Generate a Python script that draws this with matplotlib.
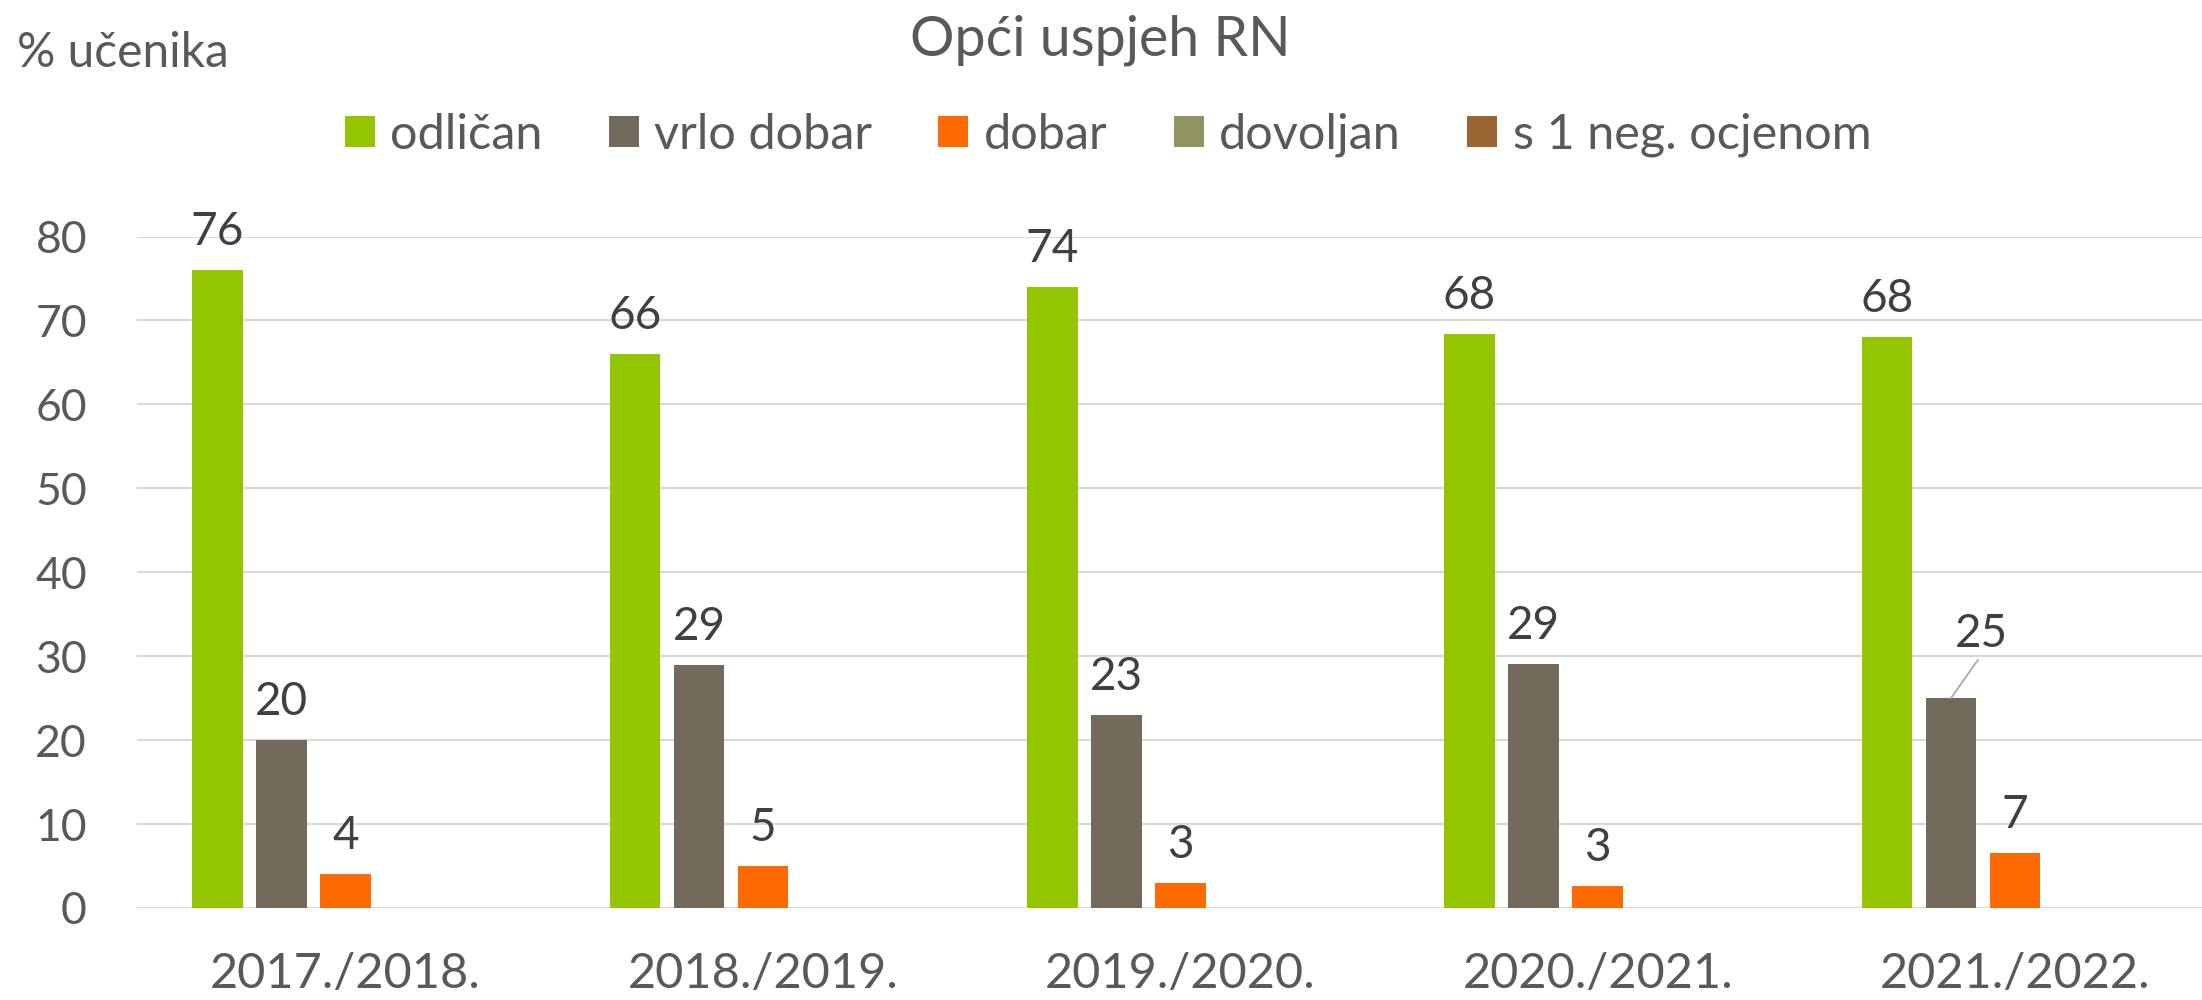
import matplotlib
matplotlib.use("Agg")
import matplotlib.pyplot as plt
import numpy as np

plt.rcParams['font.family'] = ['Lato', 'DejaVu Sans']

# podaci
godine = ['2017./2018.', '2018./2019.', '2019./2020.', '2020./2021.', '2021./2022.']
serije = ['odličan', 'vrlo dobar', 'dobar', 'dovoljan', 's 1 neg. ocjenom']
odlican = [76, 66, 74, 68.4, 68]
vrlo_dobar = [20, 29, 23, 29.1, 25]
dobar = [4, 5, 3, 2.6, 6.6]
dovoljan = [0, 0, 0, 0, 0]
s1neg = [0, 0, 0, 0, 0]
boje = ['#93C500', '#736A5B', '#FF6A00', '#8F9461', '#996633']

sve = [odlican, vrlo_dobar, dobar, dovoljan, s1neg]

fig = plt.figure(figsize=(22.02, 10), dpi=100)
ax = fig.add_axes([137 / 2202, 0.092, 1 - 137 / 2202, 0.6715])

x = np.arange(len(godine))
korak = 0.1534
sirina = 0.121
txt = '#595959'
lbl = '#404040'

for j, (vals, name, c) in enumerate(zip(sve, serije, boje)):
    pos = x + (j - 2) * korak
    ax.bar(pos, vals, width=sirina, color=c, label=name, zorder=3)
    for i, (p, v) in enumerate(zip(pos, vals)):
        if v == 0:
            continue
        s = str(int(v + 0.5))
        if j == 1 and i == 4:
            # pomaknuta oznaka s linijom
            ax.annotate(s, xy=(p, v), xytext=(22, 37), textcoords='offset points',
                        ha='center', va='baseline', fontsize=33, color=lbl,
                        arrowprops=dict(arrowstyle='-', color='#A6A6A6', lw=1.2,
                                        shrinkA=2, shrinkB=0, relpos=(0.5, 0)))
        else:
            ax.annotate(s, xy=(p, v), xytext=(0, 18), textcoords='offset points',
                        ha='center', va='baseline', fontsize=33, color=lbl)

ax.set_xlim(-0.5, 4 + (2202 - 2015) / 417.3)
ax.set_ylim(0, 80)
ax.set_yticks(range(0, 81, 10))
ax.set_xticks(x)
ax.set_xticklabels(godine)
ax.tick_params(axis='y', length=0, pad=36, labelsize=32, labelcolor=txt)
ax.tick_params(axis='x', length=0, pad=32, labelsize=35, labelcolor=txt)
for sp in ax.spines.values():
    sp.set_visible(False)
ax.grid(axis='y', color='#D9D9D9', linewidth=1.5, zorder=0)
ax.set_axisbelow(True)

fig.text(1100 / 2202, 1 - 56 / 1000, 'Opći uspjeh RN', ha='center', va='baseline',
         fontsize=40, color=txt)
fig.text(17 / 2202, 1 - 67 / 1000, '% učenika', ha='left', va='baseline',
         fontsize=34.5, color=txt)

fs = 35
fig.legend(loc='center', bbox_to_anchor=(1108 / 2202, 1 - 135 / 1000), ncol=5,
           frameon=False, fontsize=fs, labelcolor=txt,
           handlelength=30 / (fs * 100 / 72), handleheight=30 / (fs * 100 / 72),
           handletextpad=0.32, columnspacing=1.36, borderpad=0, borderaxespad=0)

fig.savefig('out.png', dpi=100)
